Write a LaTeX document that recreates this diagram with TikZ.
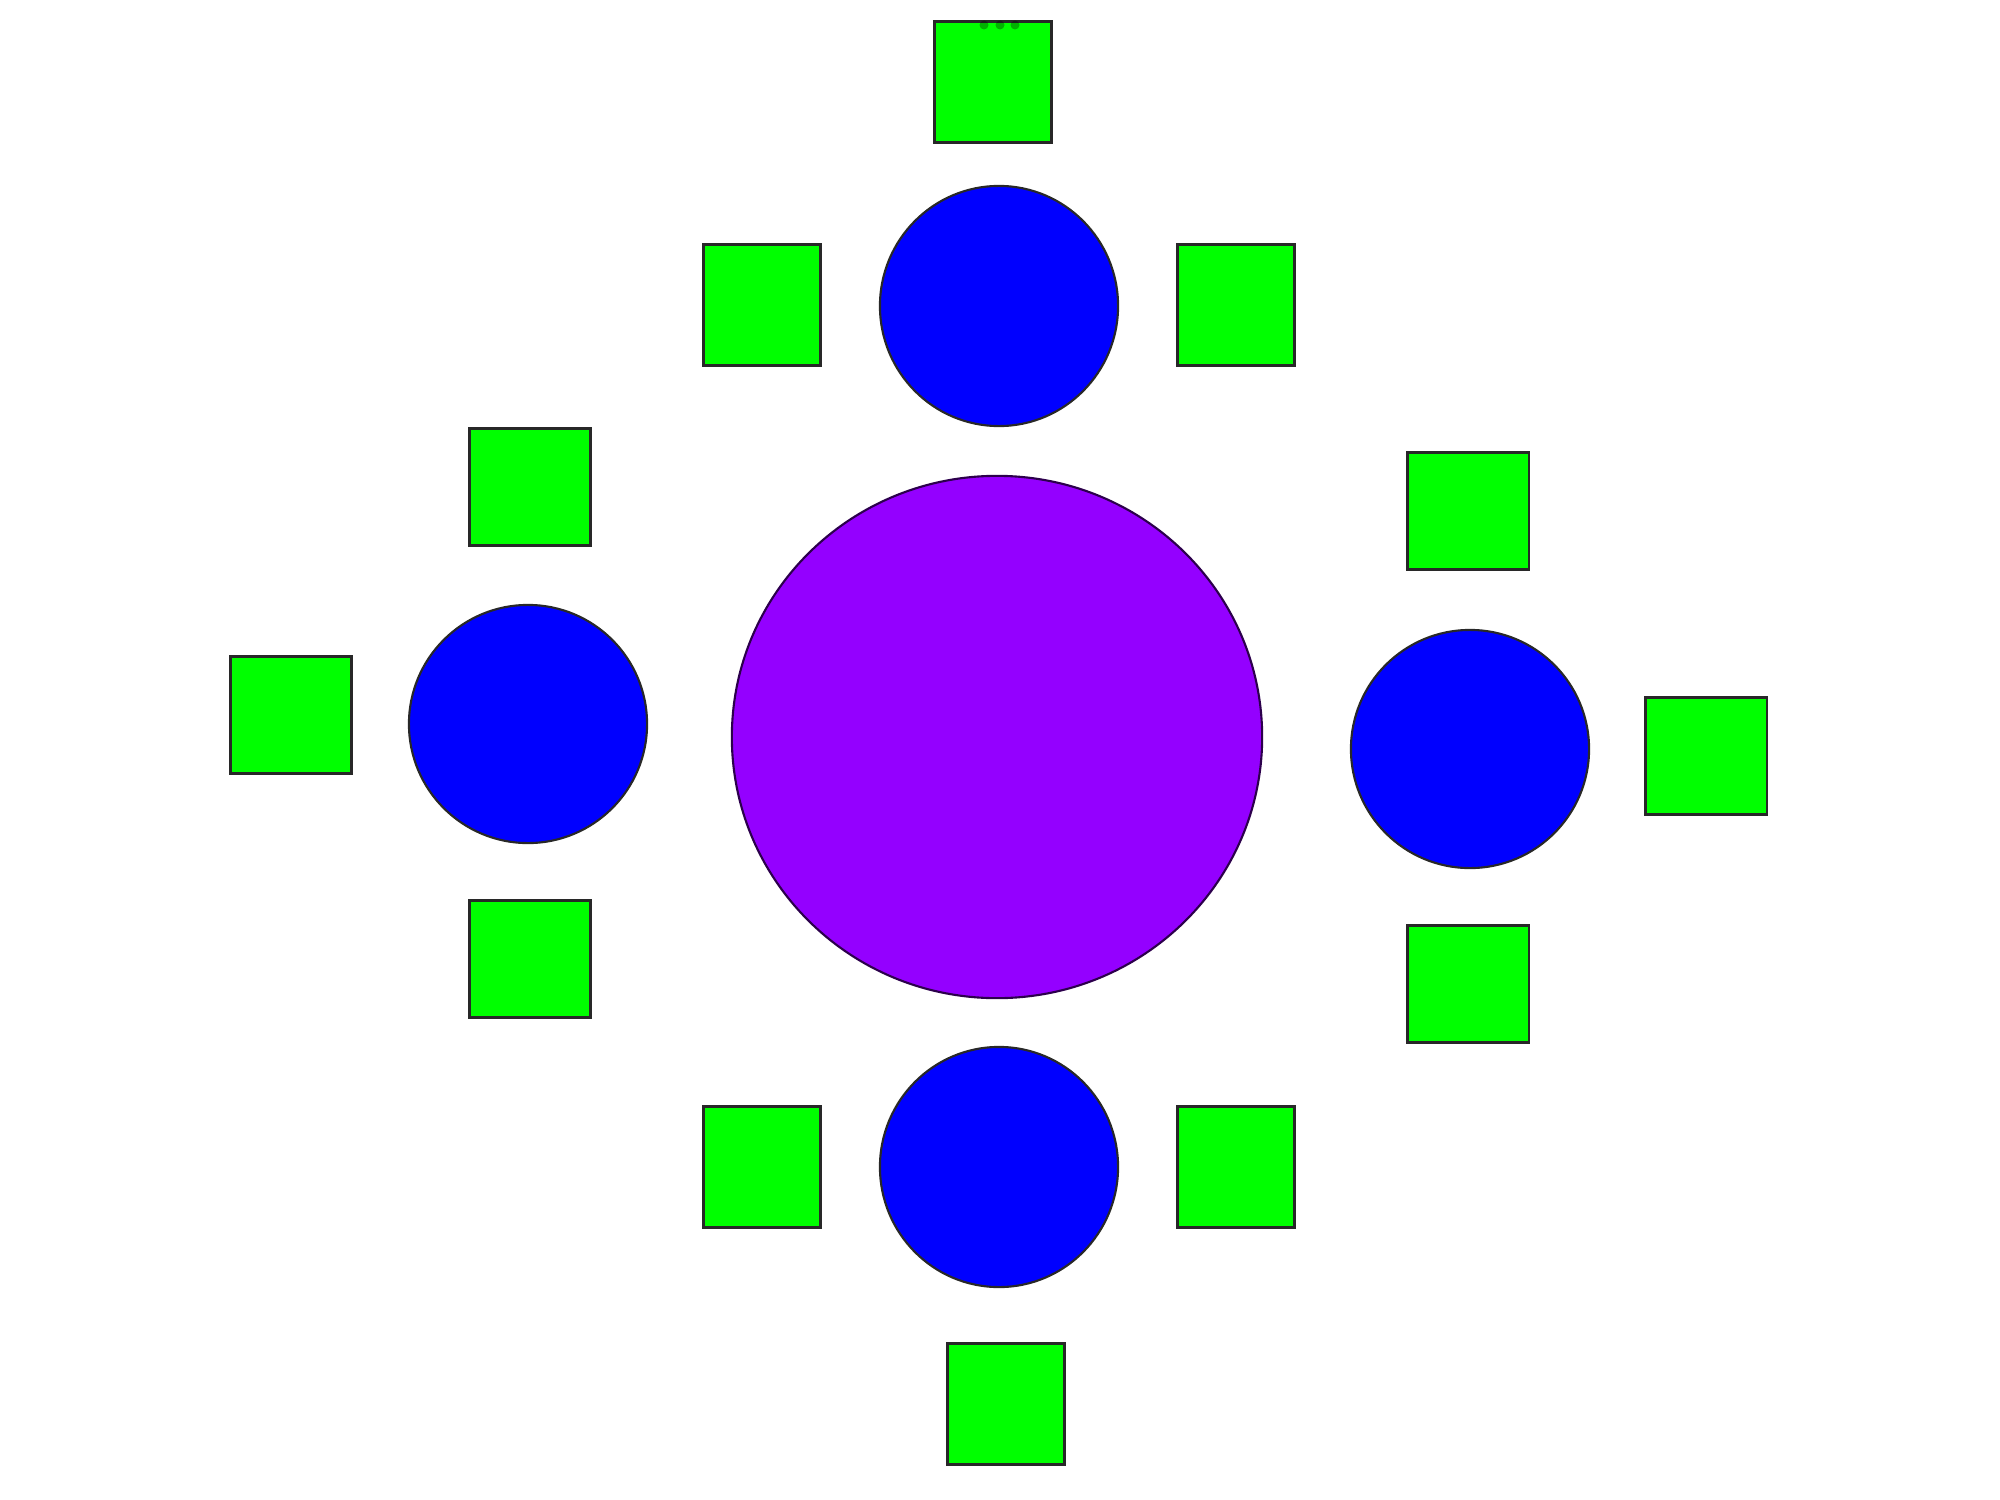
\documentclass[tikz,border=0pt]{standalone}
\usetikzlibrary{shapes.geometric}
\definecolor{sqgreen}{RGB}{0,255,0}
\definecolor{cblue}{RGB}{0,0,255}
\definecolor{cpurple}{RGB}{148,0,255}
\definecolor{edgegray}{RGB}{40,40,40}
\begin{document}
\begin{tikzpicture}[x=0.01cm,y=-0.01cm,
  sqv/.style={rectangle,draw=edgegray,line width=0.6pt,fill=sqgreen,inner sep=0pt,minimum width=1.17cm,minimum height=1.21cm},
  sqh/.style={rectangle,draw=edgegray,line width=0.6pt,fill=sqgreen,inner sep=0pt,minimum width=1.21cm,minimum height=1.17cm},
  bluec/.style={ellipse,draw=edgegray,line width=0.6pt,fill=cblue,inner sep=0pt,minimum width=2.38cm,minimum height=2.40cm},
  bigc/.style={ellipse,draw=black!70!cpurple,line width=0.6pt,fill=cpurple,inner sep=0pt,minimum width=5.30cm,minimum height=5.22cm},
  dotm/.style={circle,fill=black,fill opacity=0.3,inner sep=0pt,minimum size=0.09cm}]
\useasboundingbox (0,0) rectangle (2000,1500);
% central and satellite circles
\node[bigc] (center) at (997,737) {};
\node[bluec] (ctop) at (999,306) {};
\node[bluec] (cbot) at (999,1167) {};
\node[bluec,minimum height=2.38cm] (cleft) at (528,724) {};
\node[bluec,minimum height=2.38cm] (cright) at (1470,749) {};
% squares of the top and bottom groups
\node[sqv] (stop) at (993,82) {};
\node[sqv] (stl) at (762,305) {};
\node[sqv] (str) at (1236,305) {};
\node[sqv] (sbl) at (762,1167) {};
\node[sqv] (sbr) at (1236,1167) {};
\node[sqv] (sbot) at (1006,1404) {};
% squares of the side groups
\node[sqh] (slt) at (530,487) {};
\node[sqh] (sll) at (291,715) {};
\node[sqh] (slb) at (530,959) {};
\node[sqh] (srt) at (1468,511) {};
\node[sqh] (srr) at (1706,756) {};
\node[sqh] (srb) at (1468,984) {};
% three small dots on the top square
\node[dotm] (d1) at (984,25) {};
\node[dotm] (d2) at (1000,25) {};
\node[dotm] (d3) at (1015,25) {};
\end{tikzpicture}
\end{document}
